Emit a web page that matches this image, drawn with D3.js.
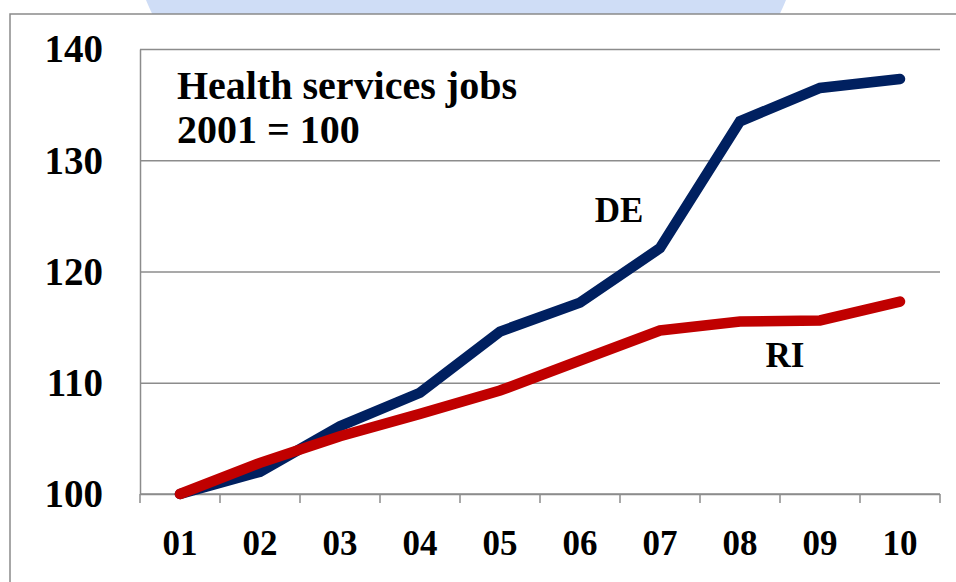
<!DOCTYPE html>
<html>
<head>
<meta charset="utf-8">
<script src="https://cdn.jsdelivr.net/npm/d3@7"></script>
<style>
  html, body { margin: 0; padding: 0; background: #fff; }
  svg { display: block; }
  text { font-family: "Liberation Serif", "DejaVu Serif", serif; font-weight: bold; fill: #000; }
</style>
</head>
<body>
<div id="chart"></div>
<script>
/* Health services jobs, index 2001 = 100 */
var years = ['01', '02', '03', '04', '05', '06', '07', '08', '09', '10'];
var deValues = [100, 102.0, 106.1, 109.1, 114.6, 117.2, 122.1, 133.5, 136.5, 137.3];
var riValues = [100, 102.8, 105.2, 107.2, 109.3, 112.0, 114.7, 115.5, 115.6, 117.3];
var yTicks = [100, 110, 120, 130, 140];
var seriesNames = ['DE', 'RI'];

(function drawChart() {
  var W = 956, H = 582;
  var svg = d3.select('#chart').append('svg')
    .attr('width', W).attr('height', H);

  /* ── slide decoration: blue blob behind the frame ── */
  svg.append('ellipse')
    .attr('cx', 466).attr('cy', -100)
    .attr('rx', 340).attr('ry', 296)
    .attr('fill', '#cfddf6');

  /* ── chart frame ── */
  svg.append('rect')
    .attr('x', 10).attr('y', 14)
    .attr('width', 1000).attr('height', 640)
    .attr('fill', '#fff')
    .attr('stroke', '#8a8a8a').attr('stroke-width', 1.5);

  var left = 140, right = 940, top = 49, bottom = 494;

  var x = d3.scaleBand().domain(years).range([left, right]).paddingInner(0).paddingOuter(0);
  var y = d3.scaleLinear().domain([100, 140]).range([bottom, top]);
  var cx = function (d) { return x(d) + x.bandwidth() / 2; };

  /* ── gridlines ── */
  var grid = svg.append('g')
    .attr('transform', 'translate(' + left + ',0)')
    .call(d3.axisLeft(y).tickValues(yTicks).tickSize(-(right - left)).tickFormat(''));
  grid.select('.domain').remove();
  grid.selectAll('line').attr('stroke', '#8c8c8c').attr('stroke-width', 1.5);

  /* ── y axis ── */
  var yAx = svg.append('g')
    .attr('transform', 'translate(' + left + ',0)')
    .call(d3.axisLeft(y).tickValues(yTicks).tickSize(0).tickPadding(37));
  yAx.select('.domain').attr('stroke', '#8c8c8c').attr('stroke-width', 1.5);
  yAx.selectAll('text')
    .style('font-family', '"Liberation Serif", serif')
    .style('font-weight', 'bold')
    .style('font-size', '39px')
    .attr('dy', '0.33em');

  /* ── x axis ── */
  var xAx = svg.append('g').attr('transform', 'translate(0,' + bottom + ')');
  xAx.append('line')
    .attr('x1', left).attr('x2', right)
    .attr('stroke', '#8c8c8c').attr('stroke-width', 1.5);
  var edges = years.map(function (d) { return x(d); }).concat([right]);
  xAx.selectAll('.xtick').data(edges).enter().append('line')
    .attr('class', 'xtick')
    .attr('x1', function (d) { return d; }).attr('x2', function (d) { return d; })
    .attr('y1', 0).attr('y2', 9)
    .attr('stroke', '#8c8c8c').attr('stroke-width', 1.5);
  xAx.selectAll('.xlab').data(years).enter().append('text')
    .attr('class', 'xlab')
    .attr('x', cx).attr('y', 61)
    .attr('text-anchor', 'middle')
    .style('font-size', '35px')
    .text(function (d) { return d; });

  /* ── lines ── */
  var line = d3.line()
    .x(function (d, i) { return cx(years[i]); })
    .y(function (d) { return y(d); });

  var series = [
    { name: seriesNames[0], values: deValues, color: '#002060' },
    { name: seriesNames[1], values: riValues, color: '#c00000' }
  ];
  series.forEach(function (s) {
    svg.append('path')
      .datum(s.values)
      .attr('d', line)
      .attr('fill', 'none')
      .attr('stroke', s.color)
      .attr('stroke-width', 10.5)
      .attr('stroke-linecap', 'round')
      .attr('stroke-linejoin', 'miter');
  });

  /* ── labels ── */
  svg.append('text').attr('x', 177).attr('y', 99)
    .style('font-size', '40px').text('Health services jobs');
  svg.append('text').attr('x', 177).attr('y', 143)
    .style('font-size', '40px').text('2001 = 100');

  svg.append('text').attr('x', 619).attr('y', 222)
    .attr('text-anchor', 'middle')
    .style('font-size', '35px').text(seriesNames[0]);
  svg.append('text').attr('x', 785).attr('y', 367)
    .attr('text-anchor', 'middle')
    .style('font-size', '35px').text(seriesNames[1]);
}());
</script>
</body>
</html>
